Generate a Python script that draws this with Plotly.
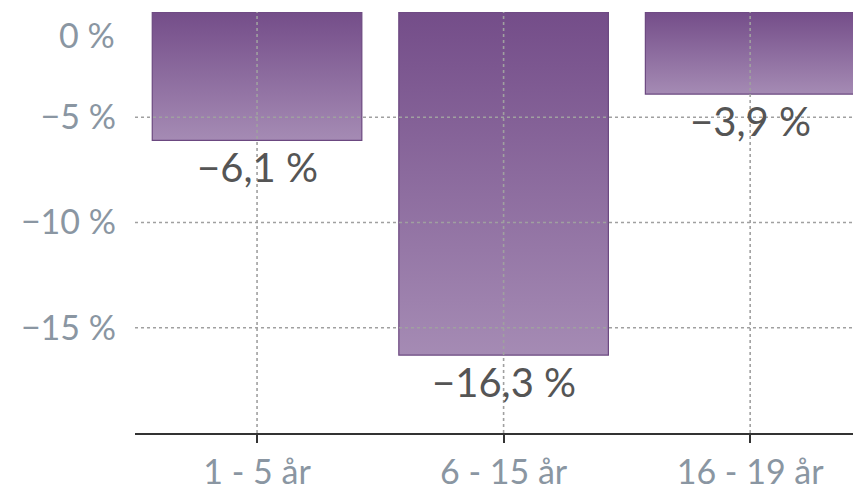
import plotly.graph_objects as go

categories = ["1 - 5 år", "6 - 15 år", "16 - 19 år"]
values = [-6.1, -16.3, -3.9]
value_labels = ["−6,1 %", "−16,3 %", "−3,9 %"]
y_ticks = [-5, -10, -15]
y_tick_labels = ["−5 %", "−10 %", "−15 %"]

FONT = "Lato"
TOP_COL = "#744d89"
BOT_COL = "#a58bb4"
BAR_W = 0.85
PAGE_OFF = 8  # default body margin of the html page

fig = go.Figure()

for i, (cat, v) in enumerate(zip(categories, values)):
    x0, x1 = i - BAR_W / 2, i + BAR_W / 2
    fig.add_trace(go.Scatter(
        x=[x0, x1, x1, x0, x0], y=[0, 0, v, v, 0],
        mode="lines", fill="toself",
        line=dict(color="#6b4880", width=1.2),
        fillgradient=dict(type="vertical",
                          colorscale=[[0, BOT_COL], [1, TOP_COL]]),
        hoverinfo="skip", showlegend=False,
    ))

annotations = []
for i, (v, lab) in enumerate(zip(values, value_labels)):
    annotations.append(dict(text=lab, x=i, y=v, xref="x", yref="y",
                            xanchor="center", yanchor="top", yshift=-1,
                            showarrow=False,
                            font=dict(family=FONT, size=40, color="#555555")))

annotations.append(dict(text="0 %", xref="paper", x=0, xanchor="right", xshift=-18,
                        yref="y", y=0, yanchor="middle", yshift=-22, showarrow=False,
                        font=dict(family=FONT, size=34, color="#8a96a2")))

shapes = []
grid_style = dict(color="#a0a0a0", width=1.6, dash="dot")
for t in y_ticks:
    shapes.append(dict(type="line", xref="paper", x0=0, x1=1, yref="y", y0=t, y1=t,
                       line=grid_style, layer="above"))
for i in range(len(categories)):
    shapes.append(dict(type="line", xref="x", x0=i, x1=i, yref="y", y0=-20, y1=0,
                       line=grid_style, layer="above"))

fig.update_layout(
    width=861, height=491,
    margin=dict(l=135 - PAGE_OFF, r=0, t=12 - PAGE_OFF, b=58 + PAGE_OFF),
    paper_bgcolor="white", plot_bgcolor="white",
    shapes=shapes,
    annotations=annotations,
    xaxis=dict(range=[-0.495, 2.482], tickvals=list(range(len(categories))),
               ticktext=categories, showgrid=False, zeroline=False,
               showline=True, linecolor="#333333", linewidth=2,
               ticks="outside", ticklen=8, tickwidth=2, tickcolor="#333333",
               tickfont=dict(family=FONT, size=34, color="#8a96a2")),
    yaxis=dict(range=[-20, 0], tickvals=y_ticks, ticktext=y_tick_labels,
               showgrid=False, zeroline=False, showline=False,
               ticks="", ticklabelstandoff=18,
               tickfont=dict(family=FONT, size=34, color="#8a96a2")),
)

fig.write_html("out.html")
